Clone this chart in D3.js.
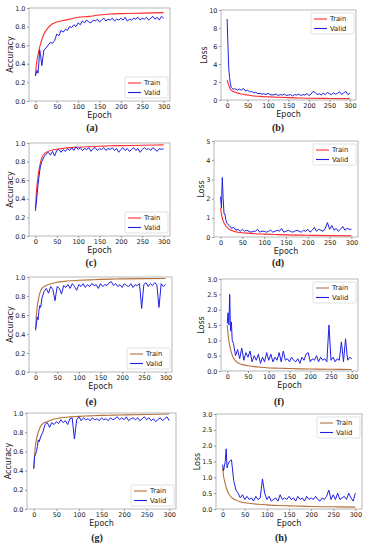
<!DOCTYPE html>
<html>
<head>
<meta charset="utf-8">
<script src="https://cdn.jsdelivr.net/npm/d3@7"></script>
<style>
  body { margin: 0; background: #fff; }
  svg { display: block; }
  text { font-family: "DejaVu Sans", sans-serif; fill: #222; }
</style>
</head>
<body>
<div id="chart"></div>
<script>
const w = 373;
const h = 550;

const epochsTrain = [0, 2, 5, 10, 15, 20, 30, 40, 50, 60, 80, 100, 125, 150, 175, 200, 250, 300];
const epochsValid = [0, 2, 4, 6, 8, 10, 12, 15, 20, 25, 30, 35, 40, 45, 50, 55, 60, 65, 70, 75, 80, 85, 90, 95,
    100, 105, 110, 115, 120, 125, 130, 135, 140, 145, 150, 155, 160, 165, 170, 175, 180, 185, 190, 195,
    200, 205, 210, 215, 220, 225, 230, 235, 240, 245, 250, 255, 260, 265, 270, 275, 280, 285, 290, 295, 300];

const xTicks = [0, 50, 100, 150, 200, 250, 300];

// (a)
const trainA = [0.27, 0.38, 0.47, 0.58, 0.66, 0.72, 0.79, 0.83, 0.85, 0.86, 0.88, 0.90, 0.91, 0.925, 0.935, 0.94, 0.945, 0.95];
const validA = [0.27, 0.30, 0.33, 0.30, 0.40, 0.55, 0.50, 0.38, 0.55, 0.57, 0.60, 0.63, 0.62, 0.65, 0.72, 0.70, 0.76, 0.74, 0.77, 0.76,
    0.80, 0.79, 0.82, 0.80, 0.84, 0.82, 0.86, 0.84, 0.87, 0.85, 0.84, 0.87, 0.86, 0.88, 0.85, 0.87, 0.89, 0.86, 0.88, 0.87,
    0.89, 0.86, 0.88, 0.87, 0.89, 0.87, 0.90, 0.86, 0.88, 0.87, 0.89, 0.88, 0.90, 0.87, 0.89, 0.88, 0.90, 0.87, 0.89, 0.91,
    0.88, 0.90, 0.87, 0.91, 0.89];
// (b)
const trainB = [2.2, 1.9, 1.5, 1.1, 0.95, 0.85, 0.72, 0.62, 0.55, 0.48, 0.40, 0.35, 0.30, 0.26, 0.23, 0.20, 0.17, 0.15];
const validB = [9.0, 6.0, 3.5, 2.5, 1.8, 1.4, 1.3, 1.2, 1.25, 1.1, 1.2, 1.1, 1.3, 1.0, 1.1, 0.9, 0.95, 0.8, 0.85, 0.7,
    0.75, 0.65, 0.7, 0.6, 0.75, 0.6, 0.55, 0.6, 0.65, 0.5, 0.6, 0.55, 0.65, 0.5, 0.55, 0.6, 0.45, 0.6, 0.55, 0.65,
    0.5, 0.6, 0.55, 0.7, 0.5, 0.65, 0.95, 0.85, 0.6, 0.7, 0.55, 0.75, 0.6, 0.85, 0.7, 0.6, 0.8, 0.65, 0.75, 0.9,
    0.6, 0.8, 0.95, 0.6, 0.75];
// (c)
const trainC = [0.30, 0.45, 0.60, 0.75, 0.84, 0.88, 0.91, 0.925, 0.935, 0.94, 0.95, 0.955, 0.96, 0.965, 0.97, 0.972, 0.975, 0.98];
const validC = [0.27, 0.35, 0.45, 0.55, 0.62, 0.70, 0.75, 0.80, 0.85, 0.88, 0.90, 0.87, 0.91, 0.86, 0.92, 0.93, 0.90, 0.93, 0.91, 0.94,
    0.92, 0.95, 0.92, 0.96, 0.93, 0.95, 0.92, 0.94, 0.93, 0.95, 0.91, 0.94, 0.95, 0.92, 0.94, 0.93, 0.95, 0.92, 0.94, 0.93,
    0.95, 0.92, 0.94, 0.90, 0.93, 0.95, 0.92, 0.94, 0.91, 0.93, 0.95, 0.92, 0.94, 0.90, 0.93, 0.95, 0.93, 0.94, 0.92, 0.95,
    0.93, 0.91, 0.94, 0.93, 0.94];
// (d)
const trainD = [1.5, 1.2, 0.9, 0.65, 0.5, 0.4, 0.3, 0.25, 0.22, 0.2, 0.17, 0.15, 0.13, 0.11, 0.1, 0.09, 0.07, 0.06];
const validD = [2.1, 1.5, 3.1, 2.0, 1.2, 1.2, 0.9, 0.7, 0.6, 0.45, 0.5, 0.35, 0.4, 0.3, 0.4, 0.3, 0.35, 0.3, 0.25, 0.3,
    0.3, 0.4, 0.25, 0.3, 0.3, 0.25, 0.3, 0.35, 0.25, 0.3, 0.35, 0.3, 0.45, 0.25, 0.3, 0.35, 0.3, 0.25, 0.3, 0.35,
    0.3, 0.25, 0.35, 0.3, 0.4, 0.25, 0.35, 0.5, 0.3, 0.4, 0.35, 0.3, 0.45, 0.75, 0.4, 0.6, 0.35, 0.45, 0.3, 0.4,
    0.55, 0.35, 0.45, 0.4, 0.4];
// (e)
const trainE = [0.45, 0.60, 0.72, 0.83, 0.88, 0.90, 0.92, 0.935, 0.945, 0.95, 0.96, 0.965, 0.97, 0.975, 0.978, 0.98, 0.983, 0.985];
const validE = [0.44, 0.50, 0.58, 0.55, 0.65, 0.70, 0.68, 0.78, 0.85, 0.88, 0.83, 0.90, 0.87, 0.75, 0.90, 0.88, 0.82, 0.91, 0.89, 0.92,
    0.88, 0.93, 0.90, 0.86, 0.92, 0.90, 0.93, 0.89, 0.92, 0.90, 0.93, 0.91, 0.92, 0.88, 0.93, 0.90, 0.92, 0.91, 0.94, 0.95,
    0.91, 0.93, 0.90, 0.92, 0.89, 0.93, 0.91, 0.90, 0.93, 0.89, 0.92, 0.91, 0.93, 0.67, 0.92, 0.94, 0.90, 0.93, 0.91, 0.94,
    0.92, 0.68, 0.93, 0.90, 0.92];
// (f)
const trainF = [1.5, 1.2, 0.9, 0.6, 0.42, 0.33, 0.24, 0.2, 0.17, 0.15, 0.12, 0.1, 0.09, 0.08, 0.07, 0.065, 0.055, 0.05];
const validF = [1.55, 1.9, 1.5, 2.5, 1.3, 1.6, 1.0, 0.9, 0.5, 0.7, 0.4, 0.75, 0.35, 0.6, 0.45, 0.65, 0.3, 0.5, 0.35, 0.55,
    0.25, 0.45, 0.3, 0.6, 0.35, 0.55, 0.3, 0.45, 0.35, 0.6, 0.3, 0.65, 0.35, 0.4, 0.3, 0.45, 0.35, 0.3, 0.4, 0.25,
    0.45, 0.35, 0.55, 0.6, 0.3, 0.4, 0.35, 0.5, 0.3, 0.45, 0.35, 0.4, 0.3, 1.5, 0.35, 0.45, 0.3, 0.4, 0.35, 0.95,
    0.3, 1.05, 0.35, 0.45, 0.4];
// (g)
const trainG = [0.42, 0.58, 0.70, 0.80, 0.86, 0.89, 0.91, 0.93, 0.94, 0.95, 0.96, 0.965, 0.97, 0.975, 0.978, 0.98, 0.985, 0.99];
const validG = [0.42, 0.55, 0.57, 0.60, 0.65, 0.72, 0.70, 0.75, 0.80, 0.88, 0.90, 0.85, 0.90, 0.88, 0.91, 0.89, 0.93, 0.90, 0.92, 0.88,
    0.94, 0.95, 0.73, 0.93, 0.96, 0.92, 0.95, 0.93, 0.94, 0.92, 0.95, 0.93, 0.94, 0.92, 0.95, 0.93, 0.94, 0.92, 0.95, 0.93,
    0.94, 0.96, 0.93, 0.95, 0.93, 0.96, 0.92, 0.94, 0.95, 0.93, 0.95, 0.92, 0.94, 0.96, 0.93, 0.95, 0.92, 0.94, 0.91, 0.93,
    0.95, 0.92, 0.94, 0.96, 0.92];
// (h)
const trainH = [1.3, 1.05, 0.85, 0.6, 0.45, 0.37, 0.28, 0.23, 0.2, 0.18, 0.15, 0.13, 0.11, 0.1, 0.09, 0.08, 0.07, 0.06];
const validH = [1.4, 1.2, 1.35, 1.5, 1.9, 1.3, 1.4, 1.5, 1.55, 0.9, 0.6, 0.5, 0.35, 0.45, 0.3, 0.4, 0.3, 0.35, 0.25, 0.4,
    0.3, 0.35, 0.95, 0.5, 0.3, 0.4, 0.25, 0.3, 0.35, 0.25, 0.45, 0.3, 0.35, 0.3, 0.4, 0.3, 0.35, 0.25, 0.4, 0.3,
    0.35, 0.25, 0.4, 0.3, 0.35, 0.3, 0.4, 0.3, 0.25, 0.35, 0.3, 0.4, 0.6, 0.3, 0.45, 0.3, 0.5, 0.3, 0.35, 0.4,
    0.3, 0.5, 0.35, 0.25, 0.5];

const red = "#ff2a2a";
const brown = "#b5703a";
const blue = "#1f1fe6";

// layout of each sub plot: box in pixels, y range, legend corner
const panels = [
    {id: "(a)", box: [29, 8, 170, 101], ymax: 1.0, yTicks: [0, 0.2, 0.4, 0.6, 0.8, 1.0], fmt: ".1f", ylabel: "Accuracy", yoff: 16, train: trainA, valid: validA, tc: red, legend: "bottom", cap: [92, 128]},
    {id: "(b)", box: [221, 10, 356, 100], ymax: 10, yTicks: [0, 2, 4, 6, 8, 10], fmt: "d", ylabel: "Loss", yoff: 14, train: trainB, valid: validB, tc: red, legend: "top", cap: [278, 128]},
    {id: "(c)", box: [29, 143, 170, 236], ymax: 1.0, yTicks: [0, 0.2, 0.4, 0.6, 0.8, 1.0], fmt: ".1f", ylabel: "Accuracy", yoff: 16, train: trainC, valid: validC, tc: red, legend: "bottom", cap: [91, 263]},
    {id: "(d)", box: [214, 141, 358, 237], ymax: 5, yTicks: [0, 1, 2, 3, 4, 5], fmt: "d", ylabel: "Loss", yoff: 10, train: trainD, valid: validD, tc: red, legend: "top", cap: [278, 263]},
    {id: "(e)", box: [29, 277, 172, 372], ymax: 1.0, yTicks: [0, 0.2, 0.4, 0.6, 0.8, 1.0], fmt: ".1f", ylabel: "Accuracy", yoff: 16, train: trainE, valid: validE, tc: brown, legend: "bottom", cap: [91, 402]},
    {id: "(f)", box: [221, 279, 358, 371], ymax: 3, yTicks: [0, 0.5, 1, 1.5, 2, 2.5, 3], fmt: ".1f", ylabel: "Loss", yoff: 17, train: trainF, valid: validF, tc: brown, legend: "top", cap: [279, 402]},
    {id: "(g)", box: [27, 413, 176, 509], ymax: 1.0, yTicks: [0, 0.2, 0.4, 0.6, 0.8, 1.0], fmt: ".1f", ylabel: "Accuracy", yoff: 16, train: trainG, valid: validG, tc: brown, legend: "bottom", cap: [97, 538]},
    {id: "(h)", box: [216, 414, 362, 509], ymax: 3, yTicks: [0, 0.5, 1, 1.5, 2, 2.5, 3], fmt: ".1f", ylabel: "Loss", yoff: 16, train: trainH, valid: validH, tc: brown, legend: "top", cap: [281, 538]}
];

const svg = d3.select("#chart")
    .append("svg")
    .attr("width", w)
    .attr("height", h);

let drawPanel = function(p) {
    let [x0, y0, x1, y1] = p.box;

    let x = d3.scaleLinear().domain([-15, 315]).range([x0, x1]);
    let y = d3.scaleLinear().domain([0, p.ymax]).range([y1, y0]);

    let g = svg.append("g");

    // axes
    let xAxis = g.append("g")
        .attr("transform", "translate(0," + y1 + ")")
        .call(d3.axisBottom(x).tickValues(xTicks).tickSize(2).tickPadding(1.5));
    let yAxis = g.append("g")
        .attr("transform", "translate(" + x0 + ",0)")
        .call(d3.axisLeft(y).tickValues(p.yTicks).tickFormat(d3.format(p.fmt)).tickSize(2).tickPadding(1.5));

    [xAxis, yAxis].forEach(function(a) {
        a.select(".domain").remove();
        a.selectAll("line").attr("stroke", "#555").attr("stroke-width", 0.6);
        a.selectAll("text").attr("font-size", 6.5).attr("fill", "#333").attr("font-family", "DejaVu Sans, sans-serif");
    });

    // lines
    let clipId = "clip" + p.id.replace(/[()]/g, "");
    g.append("clipPath").attr("id", clipId)
        .append("rect").attr("x", x0).attr("y", y0).attr("width", x1 - x0).attr("height", y1 - y0);

    let line = d3.line()
        .x(function(d) { return x(d[0]); })
        .y(function(d) { return y(d[1]); });

    let trainPts = epochsTrain.map(function(e, i) { return [e, p.train[i]]; });
    let validPts = epochsValid.map(function(e, i) { return [e, p.valid[i]]; });

    g.append("path")
        .attr("clip-path", "url(#" + clipId + ")")
        .attr("d", line.curve(d3.curveMonotoneX)(trainPts))
        .attr("fill", "none")
        .attr("stroke", p.tc)
        .attr("stroke-width", 1.1);

    g.append("path")
        .attr("clip-path", "url(#" + clipId + ")")
        .attr("d", line.curve(d3.curveLinear)(validPts))
        .attr("fill", "none")
        .attr("stroke", blue)
        .attr("stroke-width", 1);

    // frame
    g.append("rect")
        .attr("x", x0).attr("y", y0)
        .attr("width", x1 - x0).attr("height", y1 - y0)
        .attr("fill", "none")
        .attr("stroke", "#999")
        .attr("stroke-width", 0.7);

    // labels
    g.append("text")
        .attr("x", (x0 + x1) / 2)
        .attr("y", y1 + 17)
        .attr("text-anchor", "middle")
        .attr("font-size", 8)
        .text("Epoch");

    g.append("text")
        .attr("transform", "translate(" + (x0 - p.yoff) + "," + ((y0 + y1) / 2) + ") rotate(-90)")
        .attr("text-anchor", "middle")
        .attr("font-size", 8)
        .text(p.ylabel);

    g.append("text")
        .attr("x", p.cap[0])
        .attr("y", p.cap[1] + 3)
        .attr("text-anchor", "middle")
        .attr("font-weight", "bold")
        .attr("font-size", 10)
        .style("font-family", "Liberation Serif, serif")
        .text(p.id);

    // legend
    let lw = 43, lh = 21;
    let lx = x1 - lw - 2;
    let ly = p.legend === "bottom" ? y1 - lh - 3 : y0 + 3;
    let leg = g.append("g").attr("transform", "translate(" + lx + "," + ly + ")");
    leg.append("rect")
        .attr("width", lw).attr("height", lh)
        .attr("rx", 1.5)
        .attr("fill", "#fff")
        .attr("fill-opacity", 0.85)
        .attr("stroke", "#ccc")
        .attr("stroke-width", 0.6);
    [["Train", p.tc], ["Valid", blue]].forEach(function(item, i) {
        let yy = 6 + i * 9.5;
        leg.append("line")
            .attr("x1", 3).attr("x2", 16)
            .attr("y1", yy).attr("y2", yy)
            .attr("stroke", item[1])
            .attr("stroke-width", 1.1);
        leg.append("text")
            .attr("x", 19).attr("y", yy + 2.4)
            .attr("font-size", 6.8)
            .text(item[0]);
    });
};

panels.forEach(drawPanel);
</script>
</body>
</html>
